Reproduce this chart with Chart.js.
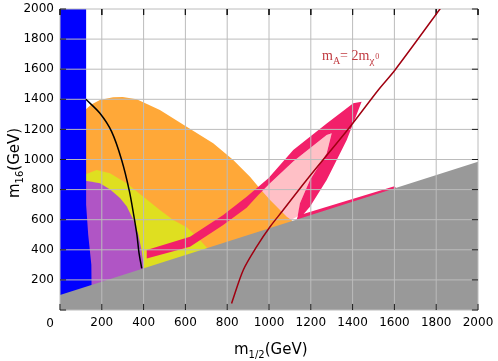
<!DOCTYPE html>
<html>
<head>
<meta charset="utf-8">
<script src="https://cdn.jsdelivr.net/npm/chart.js@4.4.1/dist/chart.umd.min.js"></script>
<style>
  body { margin: 0; background: #fff; }
</style>
</head>
<body>
<canvas id="grafico" width="498" height="361"></canvas>
<script>
// valores dos eixos (GeV)
var tickValues = [0, 200, 400, 600, 800, 1000, 1200, 1400, 1600, 1800, 2000];
var axisMax = 2000;

// regioes [m1/2, m16]
var grayRegion = [[0, 0], [0, 100], [2000, 985], [2000, 0]];
var blueRegion = [[0, 0], [0, 2000], [125, 2000], [125, 700], [135, 500], [150, 300], [152, 0]];
var pinkStrip = [[1130, 595], [1140, 628], [1600, 822], [1610, 808]];
var hotPinkRegion = [
  [415, 399], [622, 487], [781, 631], [893, 753], [997, 875], [1116, 1063], [1276, 1240],
  [1403, 1373], [1443, 1384], [1372, 1130], [1276, 864], [1196, 686], [1148, 609], [1135, 595],
  [1138, 631], [1148, 709], [1196, 864], [1276, 1041], [1300, 1174], [1276, 1163], [1116, 986],
  [1005, 842], [950, 765], [893, 680], [781, 565], [622, 421], [415, 343]
];
var purpleRegion = [
  [120, 0], [120, 858], [136, 855], [191, 843], [240, 800], [287, 745], [319, 690],
  [351, 600], [375, 500], [390, 400], [400, 300], [405, 0]
];
var yellowRegion = [
  [120, 0], [120, 900], [175, 930], [239, 908], [319, 842], [399, 753], [478, 664],
  [542, 598], [606, 550], [660, 480], [702, 415], [730, 380], [730, 0]
];
var orangeRegion = [
  [120, 0], [120, 1329], [150, 1365], [191, 1395], [254, 1413], [300, 1416], [367, 1400],
  [478, 1329], [606, 1218], [733, 1108], [829, 997], [909, 886], [957, 805], [1005, 731],
  [1085, 620], [1120, 585], [1120, 0]
];
var lightPinkRegion = [
  [960, 780], [1005, 842], [1116, 986], [1276, 1163], [1300, 1174], [1276, 1041],
  [1196, 864], [1148, 709], [1140, 625], [1100, 595], [1000, 600]
];

// curvas
var blackCurve = [[124, 1400], [191, 1307], [247, 1185], [295, 997], [332, 790], [354, 620], [368, 500], [378, 380], [391, 277]];
var redCurve = [[821, 44], [877, 266], [941, 421], [1005, 553], [1068, 664], [1180, 864], [1388, 1218], [1523, 1462], [1603, 1595], [1818, 2000], [1830, 2025]];

function pontos(lista) {
  return lista.map(function (p) { return { x: p[0], y: p[1] }; });
}

function regiao(lista, cor) {
  return {
    data: pontos(lista),
    showLine: true,
    fill: 'shape',
    backgroundColor: cor,
    borderColor: 'rgba(0,0,0,0)',
    borderWidth: 0,
    pointRadius: 0,
    tension: 0,
  };
}

function curva(lista, cor, largura) {
  return {
    data: pontos(lista),
    showLine: true,
    fill: false,
    borderColor: cor,
    borderWidth: largura,
    pointRadius: 0,
    tension: 0.3,
  };
}

// grade e marcas como segmentos separados por buracos (null)
function segmentos(comprimentoX, comprimentoY) {
  var d = [];
  tickValues.forEach(function (v) {
    if (comprimentoX === null) {
      d.push({ x: v, y: 0 }, { x: v, y: axisMax }, { x: null, y: null });
      d.push({ x: 0, y: v }, { x: axisMax, y: v }, { x: null, y: null });
    } else {
      d.push({ x: v, y: 0 }, { x: v, y: comprimentoY }, { x: null, y: null });
      d.push({ x: v, y: axisMax }, { x: v, y: axisMax - comprimentoY }, { x: null, y: null });
      d.push({ x: 0, y: v }, { x: comprimentoX, y: v }, { x: null, y: null });
      d.push({ x: axisMax, y: v }, { x: axisMax - comprimentoX, y: v }, { x: null, y: null });
    }
  });
  return d;
}

function linhas(dados, cor) {
  return {
    data: dados,
    showLine: true,
    spanGaps: false,
    fill: false,
    borderColor: cor,
    borderWidth: 1,
    pointRadius: 0,
    tension: 0,
    clip: 2,
  };
}

// primeiro dataset fica por cima
var conjuntos = [
  curva(blackCurve, '#000000', 1.5),
  curva(redCurve, '#a00010', 1.5),
  linhas(segmentos(29, 40), '#1a1a1a'),
  linhas(segmentos(null, null), '#bcbcbc'),
  regiao(grayRegion, '#999999'),
  regiao(blueRegion, '#0000ff'),
  regiao(pinkStrip, '#f2206a'),
  regiao(hotPinkRegion, '#f2206a'),
  regiao(purpleRegion, '#b055c5'),
  regiao(yellowRegion, '#dfdf20'),
  regiao(orangeRegion, '#ffa838'),
  regiao(lightPinkRegion, '#ffc0c6'),
];

// titulos e rotulo m_A = 2m_chi
var extrasPlugin = {
  id: 'extras',
  afterDraw: function (chart) {
    var ctx = chart.ctx;
    ctx.save();
    ctx.fillStyle = '#000';
    ctx.textBaseline = 'alphabetic';
    ctx.textAlign = 'center';
    ctx.font = '12px "DejaVu Sans"';
    ctx.fillText('0', 50, 327);

    // titulo eixo x
    ctx.textAlign = 'left';
    var x = 234;
    ctx.font = '15px "DejaVu Sans"';
    ctx.fillText('m', x, 354);
    x += ctx.measureText('m').width;
    ctx.font = '10px "DejaVu Sans"';
    ctx.fillText('1/2', x, 358);
    x += ctx.measureText('1/2').width;
    ctx.font = '15px "DejaVu Sans"';
    ctx.fillText('(GeV)', x, 354);

    // titulo eixo y
    ctx.save();
    ctx.translate(19, 198);
    ctx.rotate(-Math.PI / 2);
    var t = 0;
    ctx.font = '15px "DejaVu Sans"';
    ctx.fillText('m', t, 0);
    t += ctx.measureText('m').width;
    ctx.font = '10px "DejaVu Sans"';
    ctx.fillText('16', t, 4);
    t += ctx.measureText('16').width;
    ctx.font = '15px "DejaVu Sans"';
    ctx.fillText('(GeV)', t, 0);
    ctx.restore();

    // rotulo da linha vermelha
    ctx.fillStyle = '#c03a40';
    var lx = 322;
    ctx.font = '14px "Liberation Serif"';
    ctx.fillText('m', lx, 60);
    lx += ctx.measureText('m').width;
    ctx.font = '10px "Liberation Serif"';
    ctx.fillText('A', lx, 64);
    lx += ctx.measureText('A').width;
    ctx.font = '14px "Liberation Serif"';
    ctx.fillText('= 2m', lx, 60);
    lx += ctx.measureText('= 2m').width;
    ctx.font = '11px "Liberation Serif"';
    ctx.fillText('\u03c7', lx, 64);
    lx += ctx.measureText('\u03c7').width + 1;
    ctx.font = '8px "Liberation Serif"';
    ctx.fillText('0', lx, 59);
    ctx.restore();
  },
};

function fixarTicks(s) {
  s.ticks = tickValues.map(function (v) { return { value: v }; });
}

// sem separador de milhar e sem o zero (desenhado a parte)
function rotulo(v) {
  return v === 0 ? '' : String(v);
}

new Chart(document.getElementById('grafico'), {
  type: 'scatter',
  data: { datasets: conjuntos },
  options: {
    responsive: false,
    animation: false,
    events: [],
    layout: { padding: { left: 0, top: 9, right: 20, bottom: 0 } },
    plugins: { legend: { display: false }, tooltip: { enabled: false } },
    scales: {
      x: {
        type: 'linear',
        min: 0,
        max: axisMax,
        afterBuildTicks: fixarTicks,
        afterFit: function (s) { s.height = 51; s.paddingLeft = 0; s.paddingRight = 0; },
        grid: { display: false, drawTicks: false },
        border: { display: false },
        ticks: {
          padding: 6,
          color: '#000',
          font: { family: 'DejaVu Sans', size: 12 },
          maxRotation: 0,
          callback: rotulo,
        },
      },
      y: {
        type: 'linear',
        min: 0,
        max: axisMax,
        afterBuildTicks: fixarTicks,
        afterFit: function (s) { s.width = 60; s.paddingTop = 0; s.paddingBottom = 0; },
        grid: { display: false, drawTicks: false },
        border: { display: false },
        ticks: {
          padding: 6,
          color: '#000',
          font: { family: 'DejaVu Sans', size: 12 },
          callback: rotulo,
        },
      },
    },
  },
  plugins: [extrasPlugin],
});
</script>
</body>
</html>
